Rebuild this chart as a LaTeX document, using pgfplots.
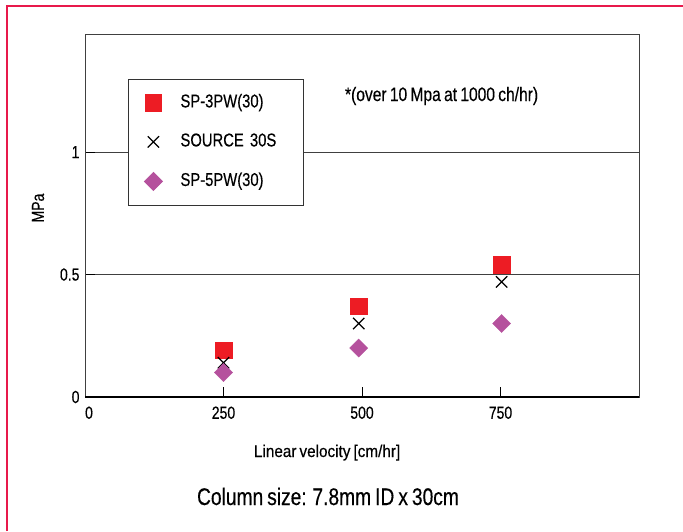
\documentclass[border=0pt]{standalone}
\usepackage{pgfplots}
\pgfplotsset{compat=1.18}
\usepackage{fontspec}
\setmainfont{Liberation Sans}[FakeStretch=0.80, WordSpace=0.75, FakeBold=0.35]
\newfontfamily\xlfont{Liberation Sans}[FakeStretch=0.90, WordSpace=0.7, FakeBold=0.35]

\definecolor{spred}{HTML}{ED1C24}
\definecolor{spmag}{HTML}{B5519D}
\definecolor{framered}{HTML}{E8194B}

\begin{document}
\begin{tikzpicture}[x=1pt,y=1pt]
\useasboundingbox (0,0) rectangle (683,531);
% page frame
\draw[framered, line width=2.5pt] (7,0) -- (7,525) -- (683,525);

\begin{axis}[
    at={(85pt,134pt)}, anchor=south west,
    scale only axis,
    width=554pt, height=362pt,
    xmin=0, xmax=1000,
    ymin=0, ymax=1.478,
    xtick={250,500,750},
    extra x ticks={0},
    extra x tick style={major tick length=0pt, xticklabel style={xshift=4pt}},
    ytick={0,0.5,1},
    xtick pos=bottom, ytick pos=left,
    tick align=inside,
    major tick length=10pt,
    tick style={black, line width=1pt},
    axis line style={black!75, line width=1pt},
    ymajorgrids=true,
    grid style={black!75, line width=1pt},
    /pgf/number format/assume math mode=true,
    tick label style={font=\fontsize{17.5}{18}\selectfont},
    xticklabel style={yshift=-6pt},
    yticklabel style={xshift=-2pt},
    xlabel={\xlfont Linear velocity [cm/hr]},
    xlabel style={at={(axis description cs:0.437,0)}, anchor=base,
                  yshift=-60pt, font=\fontsize{17}{18}\selectfont},
    ylabel={MPa},
    ylabel style={at={(axis description cs:-0.0848,0.522)}, anchor=center,
                  font=\fontsize{17.5}{18}\selectfont},
    legend cell align=left,
    legend style={
        at={(axis description cs:0.0776,0.8785)}, anchor=north west,
        draw=black!80, line width=0.8pt,
        font=\fontsize{18.5}{19}\selectfont,
        inner xsep=16pt, inner ysep=15pt,
        row sep=22pt,
        nodes={inner sep=0pt, text height=13pt, text depth=4pt,
               text width=107pt, align=left},
        /tikz/every odd column/.append style={column sep=18pt},
    },
]

\addplot[only marks, mark=square*, mark size=8.2pt,
         mark options={fill=spred, draw=spred}]
    coordinates {(250,0.19)(494,0.37)(752,0.54)};
\addlegendentry{SP-3PW(30)}

\addplot[only marks, mark=x, mark size=8pt,
         mark options={draw=black, line width=1.2pt}]
    coordinates {(250,0.14)(494,0.30)(752,0.47)};
\addlegendentry{SOURCE 30S}

\addplot[only marks, mark=square*, mark size=6.4pt,
         mark options={fill=spmag, draw=spmag, rotate=45}]
    coordinates {(250,0.10)(494,0.20)(752,0.30)};
\addlegendentry{SP-5PW(30)}

\draw[black, line width=2pt] (axis cs:0,0) -- (axis cs:1000,0);

\node[anchor=west, inner sep=0pt, font=\fontsize{19.5}{20}\selectfont]
    at (axis cs:469,1.229) {*(over 10 Mpa at 1000 ch/hr)};
\end{axis}

\node[anchor=base, inner sep=0pt, font=\fontsize{24}{25}\selectfont]
    at (328,26) {Column size: 7.8mm ID x 30cm};
\end{tikzpicture}
\end{document}
